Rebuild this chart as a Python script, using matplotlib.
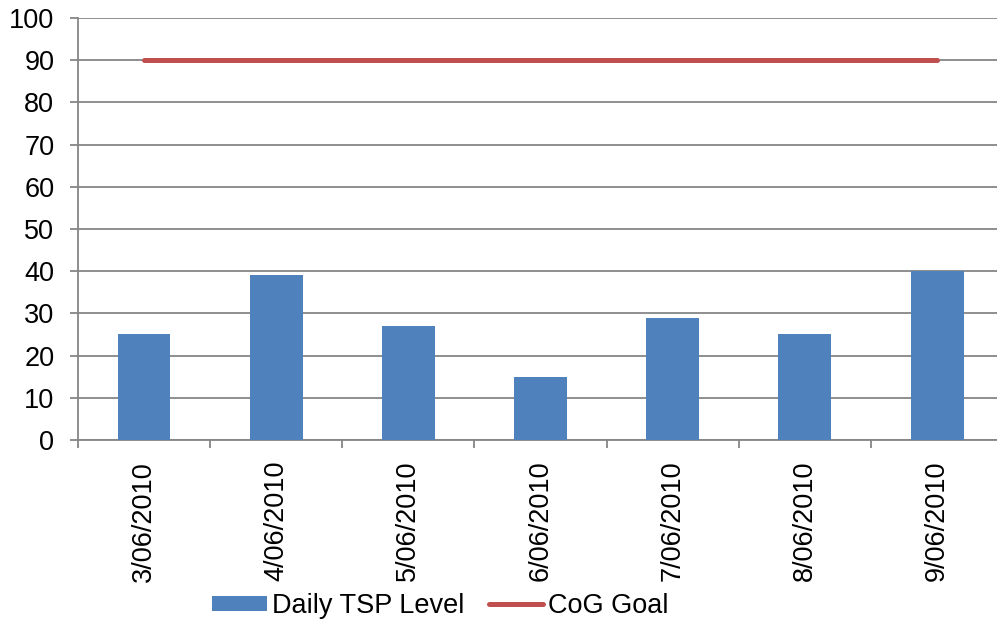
import numpy as np
import matplotlib
matplotlib.use('Agg')
import matplotlib.pyplot as plt

# data
dates = ['3/06/2010', '4/06/2010', '5/06/2010', '6/06/2010',
         '7/06/2010', '8/06/2010', '9/06/2010']
tsp_level = [25, 39, 27, 15, 29, 25, 40]
cog_goal = [90, 90, 90, 90, 90, 90, 90]

plt.rcParams['font.family'] = ['Liberation Sans', 'DejaVu Sans']

bar_color = '#4F81BD'
line_color = '#C0504D'
grid_color = '#868686'
fs = 19.5

fig = plt.figure(figsize=(9.97, 6.24), dpi=100)
ax = fig.add_axes([0.0782, 0.2949, 0.928, 0.6763])

x = np.arange(len(dates))
bars = ax.bar(x, tsp_level, width=0.4, color=bar_color, label='Daily TSP Level', zorder=3)
line, = ax.plot(x, cog_goal, color=line_color, linewidth=3.6, solid_capstyle='round',
                label='CoG Goal', zorder=4)

ax.set_xlim(-0.5, len(dates) - 0.5)
ax.set_ylim(0, 100)
ax.set_yticks(np.arange(0, 101, 10))
ax.yaxis.grid(True, color=grid_color, linewidth=1.3, zorder=0)
ax.set_axisbelow(True)

ax.set_xticks(x)
ax.set_xticklabels(dates, rotation=90, fontsize=fs)
ax.set_xticks(np.arange(-0.5, len(dates)), minor=True)
ax.tick_params(axis='x', which='major', length=0, pad=15)
ax.tick_params(axis='x', which='minor', length=6, width=1.3, color=grid_color, direction='out')
ax.tick_params(axis='y', length=6, width=1.3, color=grid_color, direction='out',
               labelsize=fs, pad=11)

for side in ['top', 'right']:
    ax.spines[side].set_visible(False)
for side in ['left', 'bottom']:
    ax.spines[side].set_color(grid_color)
    ax.spines[side].set_linewidth(1.3)

fig.legend(handles=[bars, line], labels=['Daily TSP Level', 'CoG Goal'],
           loc='center', bbox_to_anchor=(0.442, 0.029), ncol=2, frameon=False,
           fontsize=fs, handlelength=2.0, handleheight=0.45, handletextpad=0.2,
           columnspacing=0.9, borderaxespad=0)

fig.savefig('out.png', dpi=100)
